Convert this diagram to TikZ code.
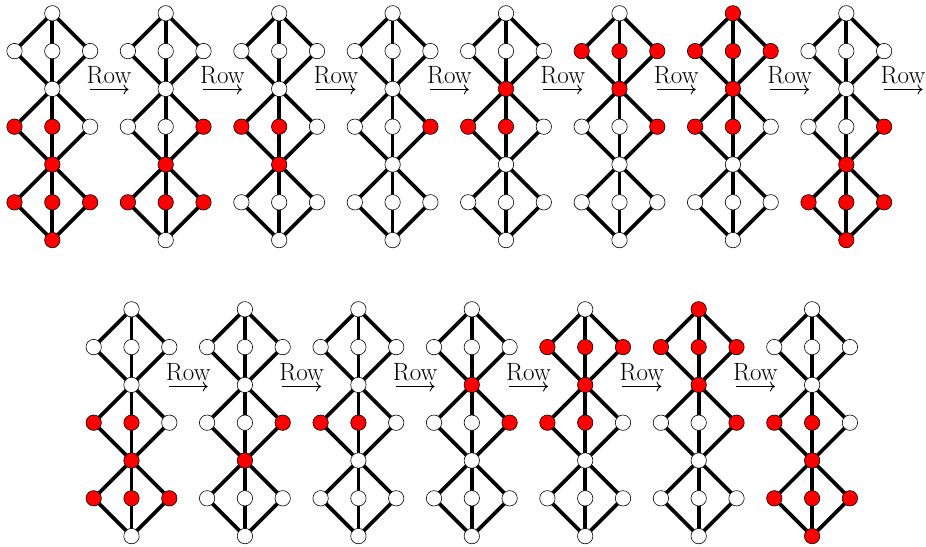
\documentclass[tikz,border=0pt]{standalone}
\usetikzlibrary{backgrounds,arrows.meta}
\tikzset{
  vtx/.style={circle, draw=black, line width=0.6pt, minimum size=15.4pt, inner sep=0pt},
  edge/.style={line width=3.7pt, shorten <=-1.5pt, shorten >=-1.5pt},
  rowlbl/.style={font=\fontsize{25}{30}\selectfont, anchor=base, inner sep=0pt},
  rowarrow/.style={line width=0.9pt, -{To[length=5pt,width=10pt]}},
}
\newcommand{\drawlat}[4]{%
  \foreach \n in {#4}{\expandafter\gdef\csname latred#3\n\endcsname{}}
  \foreach \n/\dx/\dy in {T/0/0, A1/-1/1, A2/0/1, A3/1/1, M1/0/2, B1/-1/3, B2/0/3, B3/1/3, M2/0/4, C1/-1/5, C2/0/5, C3/1/5, D/0/6}{
    \ifcsname latred#3\n\endcsname \def\fc{red}\else\def\fc{white}\fi
    \node[vtx, fill=\fc] (#3\n) at (#1+37.8*\dx, #2+37.8*\dy) {};
  }
  \begin{pgfonlayer}{background}
    \foreach \u/\v in {T/A1,T/A2,T/A3,A1/M1,A2/M1,A3/M1,M1/B1,M1/B2,M1/B3,B1/M2,B2/M2,B3/M2,M2/C1,M2/C2,M2/C3,C1/D,C2/D,C3/D}
      \draw[edge] (#3\u) -- (#3\v);
  \end{pgfonlayer}
}
\newcommand{\rowarr}[3]{%
  \node[rowlbl] (#3) at (#1,#2) {Row};
  \coordinate (#3s) at (#1-19.5,#2+6.5);
  \coordinate (#3e) at (#1+19.5,#2+6.5);
  \draw[rowarrow] (#3s) -- (#3e);
}
\begin{document}
\begin{tikzpicture}[x=1pt,y=-1pt]
\useasboundingbox (0,0) rectangle (926,546);
% top row
\drawlat{52.3}{13.3}{g1}{B1,B2,M2,C1,C2,C3,D}
\drawlat{165.7}{13.3}{g2}{B3,M2,C1,C2,C3}
\drawlat{279.2}{13.3}{g3}{B1,B2,M2}
\drawlat{392.6}{13.3}{g4}{B3}
\drawlat{506.0}{13.3}{g5}{M1,B1,B2}
\drawlat{619.5}{13.3}{g6}{A1,A2,A3,M1,B3}
\drawlat{732.9}{13.3}{g7}{T,A1,A2,A3,M1,B1,B2}
\drawlat{846.3}{13.3}{g8}{B3,M2,C1,C2,C3,D}
\rowarr{109.0}{83}{ra1}
\rowarr{222.4}{83}{ra2}
\rowarr{335.9}{83}{ra3}
\rowarr{449.3}{83}{ra4}
\rowarr{562.7}{83}{ra5}
\rowarr{676.2}{83}{ra6}
\rowarr{789.6}{83}{ra7}
\rowarr{903.0}{83}{ra8}
% bottom row
\drawlat{131.5}{309.3}{h1}{B1,B2,M2,C1,C2,C3}
\drawlat{244.9}{309.3}{h2}{B3,M2}
\drawlat{358.4}{309.3}{h3}{B1,B2}
\drawlat{471.8}{309.3}{h4}{M1,B3}
\drawlat{585.2}{309.3}{h5}{A1,A2,A3,M1,B1,B2}
\drawlat{698.7}{309.3}{h6}{T,A1,A2,A3,M1,B3}
\drawlat{812.1}{309.3}{h7}{B1,B2,M2,C1,C2,C3,D}
\rowarr{188.2}{380}{rb1}
\rowarr{301.6}{380}{rb2}
\rowarr{415.1}{380}{rb3}
\rowarr{528.5}{380}{rb4}
\rowarr{641.9}{380}{rb5}
\rowarr{755.4}{380}{rb6}
\end{tikzpicture}
\end{document}
